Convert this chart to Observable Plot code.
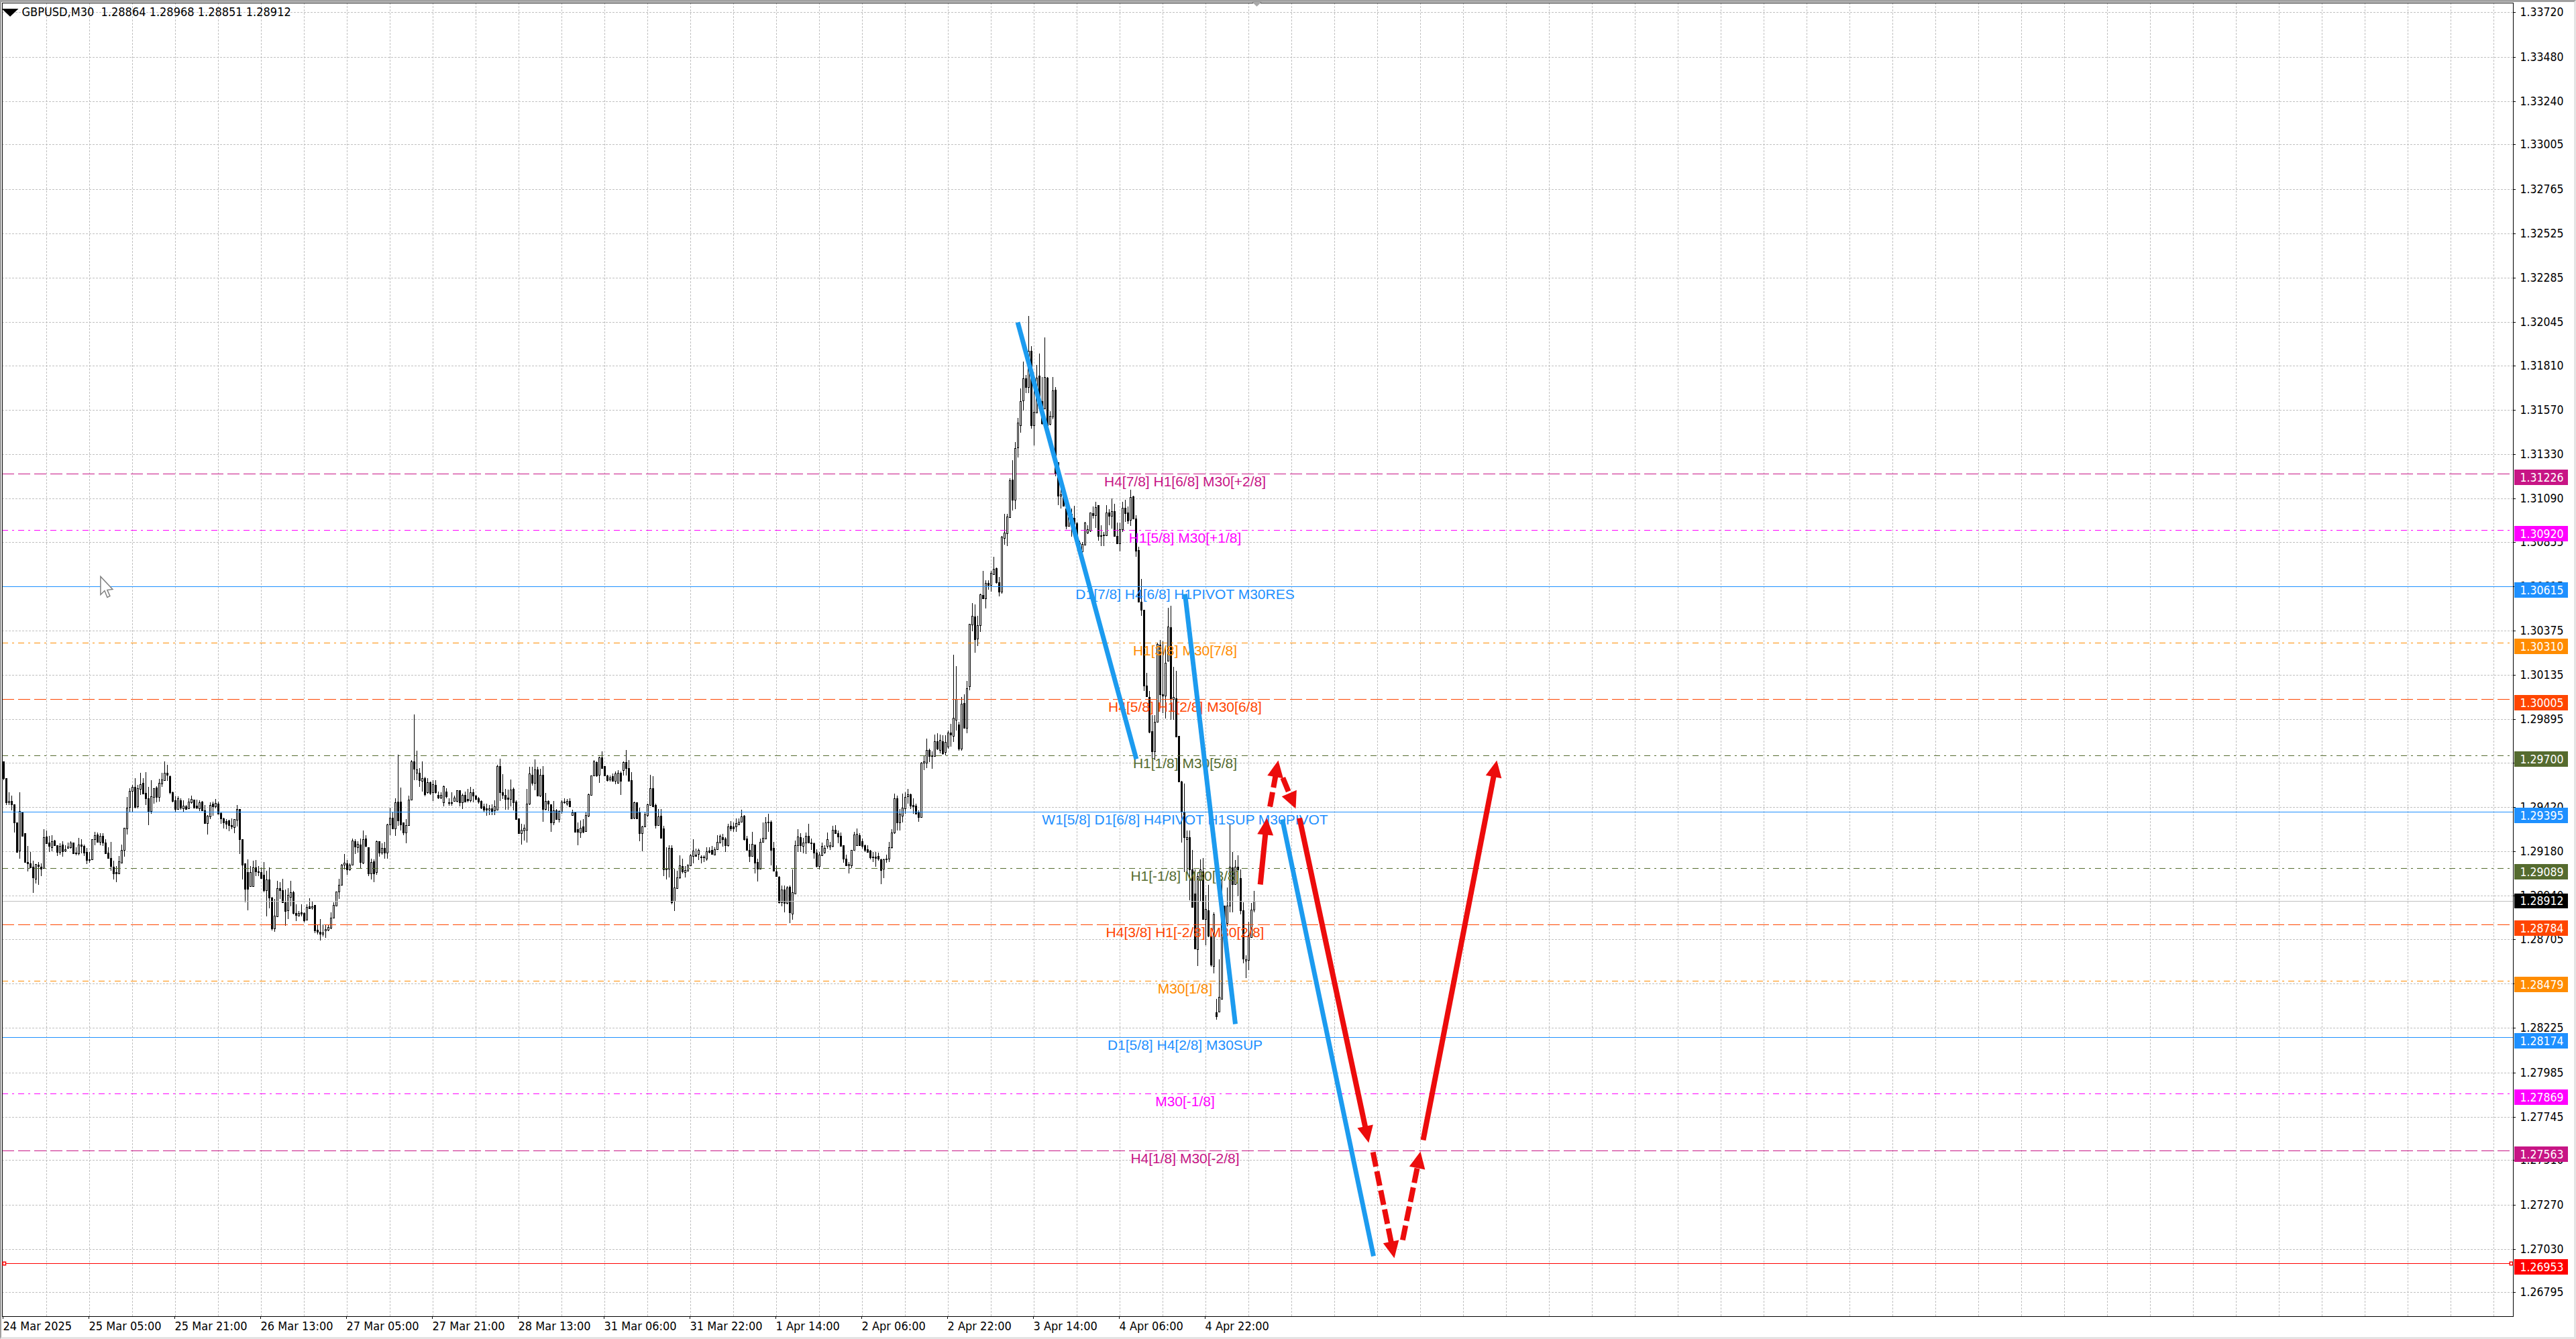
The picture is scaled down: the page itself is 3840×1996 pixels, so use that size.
<!DOCTYPE html>
<html><head><meta charset="utf-8">
<script src="https://cdn.jsdelivr.net/npm/d3@7"></script>
<script src="https://cdn.jsdelivr.net/npm/@observablehq/plot@0.6"></script>
<style>
html,body{margin:0;padding:0;background:#fff;width:3840px;height:1996px;overflow:hidden}
#edge{position:absolute;left:0;top:0;width:3840px;height:1996px;box-sizing:border-box;pointer-events:none;
border-top:3px solid #a0a0a0;border-left:2px solid #a0a0a0;border-right:3px solid #e4e4e4;border-bottom:3px solid #e4e4e4}
svg{display:block}
</style></head><body><div id="chart"></div><div id="edge"></div>
<script>
const symbolName = "GBPUSD,M30";
const lastQuote = [1.28864, 1.28968, 1.28851, 1.28912];
// candles, [open, high, low, close] in 1/100000
const bars24to25Mar = [[129668,129668,129566,129578],[129578,129578,129430,129445],[129445,129501,129430,129453],[129453,129483,129402,129435],[129435,129435,129281,129336],[129336,129336,129176,129178],[129184,129501,129140,129399],[129394,129394,129263,129266],[129278,129278,129118,129124],[129123,129211,129073,129115],[129115,129178,129091,129094],[129096,129130,128955,129039],[129033,129112,129005,129112],[129108,129124,129001,129100],[129096,129115,129048,129088],[129090,129299,129088,129257],[129261,129293,129221,129225],[129227,129263,129178,129209],[129203,129269,129182,129235],[129239,129241,129209,129212],[129215,129215,129157,129178],[129178,129223,129164,129209],[129217,129236,129152,129181],[129183,129215,129176,129193],[129200,129227,129200,129205],[129203,129236,129197,129227],[129229,129229,129166,129169],[129169,129203,129158,129172],[129171,129253,129158,129217],[129217,129247,129170,129209],[129209,129217,129154,129172],[129178,129199,129113,129132],[129138,129178,129120,129134],[129138,129247,129134,129247],[129247,129285,129212,129267],[129273,129281,129227,129233],[129233,129278,129215,129263],[129263,129278,129209,129227],[129229,129245,129166,129169],[129172,129203,129142,129145],[129145,129233,129076,129100],[129096,129130,129027,129060],[129067,129100,129015,129062],[129063,129154,129061,129126],[129120,129217,129115,129188],[129188,129308,129151,129308],[129303,129475,129273,129418],[129420,129523,129390,129508],[129508,129541,129396,129529],[129529,129578,129414,129420]];
const bars25to26Mar = [[129423,129541,129414,129523],[129520,129606,129487,129545],[129551,129578,129491,129493],[129497,129608,129432,129466],[129469,129529,129324,129399],[129399,129566,129384,129478],[129476,129523,129439,129522],[129527,129532,129445,129475],[129475,129572,129451,129551],[129547,129604,129529,129569],[129566,129668,129563,129606],[129606,129650,129563,129596],[129587,129590,129491,129499],[129499,129505,129445,129454],[129457,129479,129390,129408],[129408,129479,129406,129469],[129457,129466,129406,129418],[129414,129457,129396,129426],[129423,129430,129408,129411],[129414,129469,129408,129451],[129445,129483,129439,129463],[129460,129460,129417,129418],[129426,129459,129408,129417],[129414,129457,129399,129445],[129448,129454,129399,129401],[129401,129432,129330,129332],[129332,129378,129272,129372],[129370,129447,129354,129430],[129439,129448,129372,129423],[129423,129463,129414,129443],[129439,129451,129382,129384],[129387,129396,129330,129360],[129360,129362,129305,129336],[129344,129354,129302,129330],[129348,129350,129290,129321],[129324,129360,129299,129314],[129312,129354,129278,129354],[129353,129432,129314,129411],[129408,129408,129166,129245],[129245,129245,129027,129108],[129115,129115,128906,128976],[129067,129136,128861,128976],[128991,129100,128987,129067],[128991,129130,128987,129094],[129094,129134,129048,129072],[129072,129100,129048,129067],[129067,129094,129033,129036],[129055,129124,128958,128969],[128969,129076,128828,129030],[129030,129094,128873,128929]];
const bars26to27Mar = [[128930,128934,128752,128763],[128763,128922,128745,128833],[128830,129021,128828,128981],[128981,129015,128924,128969],[128969,129033,128900,128906],[128906,128973,128779,128858],[128861,128982,128815,128946],[128936,129021,128882,128961],[128961,128967,128840,128846],[128848,128894,128803,128835],[128834,128858,128828,128846],[128849,128894,128828,128843],[128848,128852,128797,128806],[128809,128894,128806,128878],[128882,128927,128870,128873],[128876,128912,128866,128882],[128892,128892,128740,128752],[128755,128785,128731,128746],[128745,128815,128697,128733],[128733,128785,128721,128743],[128751,128785,128713,128760],[128757,128785,128749,128771],[128767,128852,128761,128821],[128821,128906,128818,128890],[128888,128963,128882,128963],[128963,129033,128924,129000],[129000,129112,128995,129109],[129108,129166,129082,129118],[129115,129132,129055,129084],[129082,129115,129076,129108],[129108,129251,129106,129239],[129236,129247,129166,129205],[129203,129236,129172,129221],[129217,129251,129088,129123],[129120,129293,129112,129247],[129251,129269,129203,129209],[129203,129203,129045,129060],[129060,129142,129027,129124],[129126,129136,129013,129060],[129067,129239,129055,129236],[129236,129236,129151,129172],[129172,129223,129164,129199],[129199,129233,129142,129172],[129172,129330,129142,129326],[129326,129418,129269,129362],[129362,129396,129299,129305],[129305,129466,129266,129447],[129448,129705,129318,129348],[129448,129526,129293,129326],[129336,129336,129267,129281]];
const bars27to28Mar = [[129281,129354,129224,129324],[129321,129483,129318,129459],[129459,129674,129457,129668],[129668,129923,129566,129626],[129604,129727,129566,129624],[129606,129632,129529,129566],[129563,129668,129505,129575],[129578,129584,129478,129491],[129499,129578,129493,129556],[129556,129560,129487,129495],[129499,129566,129454,129545],[129539,129566,129493,129499],[129485,129505,129463,129472],[129471,129499,129463,129487],[129445,129535,129423,129533],[129505,129523,129466,129479],[129447,129469,129426,129442],[129447,129499,129426,129442],[129454,129481,129451,129471],[129454,129511,129445,129511],[129511,129511,129423,129445],[129445,129493,129408,129485],[129485,129505,129445,129451],[129463,129520,129445,129457],[129457,129529,129445,129499],[129501,129517,129445,129481],[129483,129487,129457,129463],[129469,129475,129439,129451],[129454,129457,129408,129417],[129424,129439,129396,129406],[129414,129439,129372,129405],[129405,129433,129376,129414],[129414,129435,129378,129400],[129402,129457,129378,129424],[129405,129648,129402,129641],[129641,129683,129454,129501],[129501,129600,129463,129485],[129485,129517,129406,129463],[129472,129514,129406,129465],[129465,129568,129423,129515],[129517,129527,129402,129445],[129448,129457,129354,129357],[129360,129360,129275,129278],[129278,129330,129218,129297],[129293,129326,129239,129308],[129296,129520,129227,129439],[129439,129638,129433,129602],[129595,129638,129535,129551],[129553,129678,129511,129624],[129624,129638,129479,129481]];
const bars28to31Mar = [[129481,129626,129475,129595],[129595,129641,129339,129408],[129408,129497,129402,129453],[129453,129457,129399,129439],[129436,129436,129287,129336],[129336,129453,129321,129402],[129402,129408,129354,129357],[129357,129402,129336,129399],[129396,129457,129384,129451],[129445,129469,129439,129451],[129439,129463,129426,129454],[129454,129469,129420,129423],[129376,129406,129372,129393],[129394,129396,129281,129287],[129302,129336,129212,129285],[129281,129348,129253,129309],[129315,129354,129278,129287],[129290,129396,129287,129378],[129372,129493,129366,129489],[129487,129592,129483,129592],[129590,129674,129587,129666],[129662,129668,129584,129592],[129593,129693,129551,129690],[129690,129720,129626,129632],[129641,129641,129587,129590],[129590,129596,129560,129566],[129568,129590,129557,129580],[129587,129602,129560,129563],[129563,129614,129544,129602],[129553,129620,129551,129604],[129604,129614,129485,129563],[129620,129668,129590,129662],[129665,129729,129592,129630],[129632,129674,129560,129563],[129566,129608,129357,129360],[129362,129451,129354,129447],[129445,129447,129357,129360],[129394,129418,129236,129278],[129278,129318,129181,129314],[129314,129396,129312,129382],[129378,129439,129366,129436],[129432,129595,129430,129523],[129523,129587,129423,129424],[129432,129439,129305,129324],[129324,129408,129321,129368],[129372,129408,129255,129255],[129305,129318,129045,129084],[129084,129203,129027,129088],[129088,129212,129039,129200],[129200,129212,128894,128906]];
const bars31MarTo1Apr = [[128912,129088,128858,128985],[128982,129076,128979,129039],[129039,129160,129033,129106],[129100,129142,129063,129072],[129069,129100,129039,129079],[129076,129112,129073,129106],[129106,129166,129103,129160],[129154,129245,129115,129184],[129164,129197,129152,129154],[129166,129197,129134,129190],[129152,129160,129114,129147],[129152,129160,129124,129147],[129142,129203,129130,129181],[129184,129203,129169,129178],[129188,129209,129164,129166],[129164,129203,129160,129193],[129193,129269,129190,129233],[129227,129272,129224,129263],[129257,129275,129206,129245],[129251,129257,129178,129212],[129212,129330,129206,129314],[129318,129345,129290,129305],[129314,129336,129287,129304],[129314,129360,129287,129333],[129327,129360,129326,129339],[129339,129406,129336,129370],[129374,129378,129239,129245],[129251,129263,129188,129190],[129188,129221,129124,129157],[129154,129285,129151,129221],[129217,129217,129060,129118],[129124,129142,129019,129088],[129088,129251,129085,129233],[129230,129336,129227,129253],[129251,129366,129249,129338],[129342,129384,129287,129336],[129342,129348,129106,129190],[129200,129233,129072,129076],[129072,129106,129043,129045],[129043,129045,128898,128906],[128904,128995,128882,128975],[128975,128995,128852,128900],[128900,128991,128894,128985],[128987,128995,128791,128849],[128842,129082,128809,128961],[128952,129239,128949,129215],[129212,129299,129176,129261],[129257,129278,129178,129212],[129209,129253,129169,129229],[129229,129281,129166,129266]];
const bars1to2Apr = [[129266,129330,129224,129227],[129229,129251,129190,129224],[129223,129227,129142,129172],[129175,129193,129094,129100],[129100,129178,129082,129164],[129160,129227,129154,129211],[129178,129215,129166,129200],[129209,129281,129197,129247],[129205,129233,129188,129212],[129209,129318,129203,129297],[129297,129324,129275,129278],[129280,129293,129224,129261],[129263,129281,129206,129209],[129212,129215,129118,129140],[129142,129164,129100,129103],[129103,129124,129060,129112],[129106,129190,129091,129188],[129188,129287,129184,129273],[129215,129305,129209,129275],[129269,129278,129209,129212],[129236,129251,129197,129209],[129215,129217,129178,129190],[129193,129215,129176,129178],[129184,129190,129136,129148],[129152,129178,129124,129147],[129151,129178,129096,129145],[129157,129172,129130,129142],[129138,129142,129002,129079],[129085,129142,129036,129136],[129142,129164,129118,129136],[129140,129233,129124,129203],[129203,129299,129197,129284],[129281,129493,129275,129469],[129469,129483,129293,129336],[129336,129408,129293,129384],[129372,129493,129336,129418],[129414,129499,129384,129475],[129477,129517,129439,129491],[129491,129493,129408,129426],[129430,129469,129384,129425],[129429,129439,129382,129384],[129390,129402,129339,129366],[129366,129662,129362,129660],[129660,129701,129620,129668],[129660,129789,129632,129729],[129729,129735,129662,129696],[129701,129723,129626,129696],[129696,129814,129693,129777]];
const bars2to3Apr = [[129777,129820,129729,129735],[129729,129814,129711,129783],[129777,129808,129705,129711],[129717,129808,129699,129771],[129748,129833,129736,129824],[129824,129869,129748,129812],[129806,130244,129772,129905],[129893,130184,129833,130005],[129867,129881,129724,129736],[129736,130014,129724,129980],[129984,130029,129845,129849],[129849,130103,129821,130063],[130075,130410,130051,130410],[130408,130523,130371,130456],[130450,130516,130254,130329],[130331,130456,130293,130404],[130404,130573,130368,130571],[130569,130698,130544,130549],[130549,130646,130496,130634],[130631,130646,130595,130622],[130622,130698,130585,130686],[130680,130773,130677,130710],[130712,130718,130629,130635],[130637,130665,130561,130585],[130585,130885,130573,130883],[130876,131007,130840,130904],[130902,131007,130832,130991],[130988,131198,130985,131188],[131190,131297,131025,131083],[131083,131396,131031,131363],[131366,131524,131311,131499],[131487,131687,131446,131618],[131620,131832,131566,131739],[131739,131759,131660,131693],[131693,132076,131660,131887],[131890,131914,131466,131484],[131484,131714,131376,131557],[131555,131814,131551,131745],[131753,131875,131575,131581],[131618,131747,131490,131497],[131575,131960,131573,131748],[131745,131747,131478,131484],[131493,131563,131484,131535],[131533,131748,131517,131676],[131677,131694,131210,131224],[131287,131287,131052,131103],[131106,131212,131037,131113],[131103,131152,131045,131049],[131037,131085,130922,130940],[130940,131049,130936,130988],[131006,131037,130883,130946],[130985,131049,130931,130952]];
const bars3to4Apr = [[130954,130964,130855,130859],[130852,130861,130831,130837],[130803,130855,130795,130843],[130840,130964,130835,130961],[130904,130946,130898,130922],[130916,131015,130910,131015],[131009,131045,130982,130999],[131000,131073,130931,131043],[131052,131052,130861,130886],[130892,130946,130831,130886],[130895,130910,130831,130890],[130892,131055,130888,131013],[131013,131031,130946,130997],[130994,131091,130928,131022],[131022,131061,130883,130886],[130888,130958,130843,130847],[130847,130958,130803,130922],[130924,131073,130910,131040],[131040,131081,130964,131009],[131013,131045,130952,130970],[130973,131136,130940,131097],[131101,131103,130976,130980],[130980,131000,130774,130807],[130809,130827,130529,130532],[130532,130653,130456,130489],[130489,130489,130048,130077],[130078,130147,130014,130018],[130017,130047,129821,129827],[129829,129917,129681,129720],[129722,129917,129674,129882],[129881,130311,129881,130302],[130299,130326,129954,130032],[130029,130317,129930,130024],[130024,130287,129899,130202],[130212,130498,130210,130398],[130395,130508,129893,130008],[130005,130178,129893,130014],[130008,130157,129797,129803]];
const bars4Apr = [[129806,129806,129556,129560],[129558,129563,129229,129396],[129393,129549,129069,129257],[129247,129292,129062,129257],[129257,129292,128916,129083],[129083,129190,128875,128881],[128954,129083,128652,128656],[128652,129069,128562,129048],[129027,129139,128909,129083],[129073,129143,128812,128815],[128815,128944,128673,128868],[128861,128999,128717,128722],[128722,128729,128555,128569],[128562,128851,128520,128840],[128309,128381,128270,128287],[128314,128597,128311,128392],[128381,129027,128378,128888],[128888,128888,128787,128791],[128791,128986,128773,128888],[128888,129326,128851,129097],[129094,129176,128851,129004],[129004,129132,129000,129097],[129097,129160,128937,129083],[129037,129083,128840,128861],[128861,128906,128576,128601],[128590,128620,128495,128597],[128592,128801,128537,128729],[128715,128902,128712,128865],[128864,128968,128851,128912]];

const yTicks = [1.33720,1.33480,1.33240,1.33005,1.32765,1.32525,1.32285,1.32045,1.31810,1.31570,1.31330,1.31090,1.30855,1.30615,1.30375,1.30135,1.29895,1.29660,1.29420,1.29180,1.28940,1.28705,1.28465,1.28225,1.27985,1.27745,1.27510,1.27270,1.27030,1.26795];
const xTickBars = [0,32,64,96,128,160,192,224,256,288,320,352,384,416,448];
const xTickLabels = ["24 Mar 2025","25 Mar 05:00","25 Mar 21:00","26 Mar 13:00","27 Mar 05:00","27 Mar 21:00","28 Mar 13:00","31 Mar 06:00","31 Mar 22:00","1 Apr 14:00","2 Apr 06:00","2 Apr 22:00","3 Apr 14:00","4 Apr 06:00","4 Apr 22:00"];

const levelPrices = [1.31226,1.30920,1.30615,1.30310,1.30005,1.29700,1.29395,1.29089,1.28784,1.28479,1.28174,1.27869,1.27563,1.26953];
const levelLabels = ["H4[7/8] H1[6/8] M30[+2/8]","H1[5/8] M30[+1/8]","D1[7/8] H4[6/8] H1PIVOT M30RES","H1[3/8] M30[7/8]","H4[5/8] H1[2/8] M30[6/8]","H1[1/8] M30[5/8]","W1[5/8] D1[6/8] H4PIVOT H1SUP M30PIVOT","H1[-1/8] M30[3/8]","H4[3/8] H1[-2/8] M30[2/8]","M30[1/8]","D1[5/8] H4[2/8] M30SUP","M30[-1/8]","H4[1/8] M30[-2/8]",""];
const levelColors = ["#c71585","#ff00ff","#1e90ff","#ff8c00","#ff4500","#556b2f","#1e90ff","#556b2f","#ff4500","#ff8c00","#1e90ff","#ff00ff","#c71585","#ff0000"];
const levelDash = ["18,6","9,6,3,6","none","9,6,3,6","18,6","9,6,3,6","none","9,6,3,6","18,6","9,6,3,6","none","9,6,3,6","18,6","none"];

const trendFromBar = [377.9,440.25,476.5];
const trendFromPrice = [1.32043,1.30574,1.29354];
const trendToBar = [422.1,459,510.5];
const trendToPrice = [1.29681,1.28249,1.26992];

const arrowFromBar = [468.3,471.9,476.7,482.9,510.3,521.35,529];
const arrowFromPrice = [1.29004,1.29423,1.29579,1.29361,1.27556,1.27079,1.27620];
const arrowTipBar = [470.8,475,481.5,508.7,518.25,528,556.45];
const arrowTipPrice = [1.29361,1.29674,1.29414,1.27605,1.26983,1.27558,1.29676];
const arrowDashed = [false,true,true,false,true,true,false];

const BLUE="#1c9bef", RED="#ec0c0c", GRID="#c0c0c0";
const TICKFONT="'DejaVu Sans Condensed','DejaVu Sans',sans-serif";
const rows=[...bars24to25Mar,...bars25to26Mar,...bars26to27Mar,...bars27to28Mar,...bars28to31Mar,...bars31MarTo1Apr,...bars1to2Apr,...bars2to3Apr,...bars3to4Apr,...bars4Apr];
const candles=rows.map((r,i)=>({i,open:r[0]/1e5,high:r[1]/1e5,low:r[2]/1e5,close:r[3]/1e5}));
const pxPerBar=4, pxPerPrice=27555, headLen=25, headHalf=12;
const head={draw(c,l,r){c.moveTo(0,-l);c.lineTo(r,0);c.lineTo(-r,0);c.closePath();}};
const arrows=arrowFromBar.map((fb,j)=>{
  const tb=arrowTipBar[j],fp=arrowFromPrice[j],tp=arrowTipPrice[j];
  const dx=(tb-fb)*pxPerBar,dy=(tp-fp)*pxPerPrice,len=Math.hypot(dx,dy),f=1-(headLen-2)/len;
  return {fb,fp,tb,tp,bb:fb+(tb-fb)*f,bp:fp+(tp-fp)*f,rot:Math.atan2(dx,dy)*180/Math.PI,dash:arrowDashed[j]};
});
const downTri={draw(c,s){const r=Math.sqrt(s);c.moveTo(-r,-r*.45);c.lineTo(r,-r*.45);c.lineTo(0,r*.5);c.closePath();}};
const cursor={draw(c){c.moveTo(0,0);c.lineTo(0,27);c.lineTo(6,21);c.lineTo(10,31);c.lineTo(14,29);c.lineTo(10,20);c.lineTo(18,19);c.closePath();}};
const levelTags=levelPrices.map((p,j)=>({p,c:levelColors[j]}));

const marks=[
  Plot.ruleY(yTicks,{stroke:GRID,strokeDasharray:"3,2"}),
  Plot.ruleX(d3.range(16,930,16),{stroke:GRID,strokeDasharray:"3,2"}),
  Plot.ruleX(candles,{x:"i",y1:"low",y2:"high",stroke:"black"}),
  Plot.rect(candles.filter(d=>d.close>=d.open),{x1:d=>d.i-.125,x2:d=>d.i+.375,y1:"open",y2:"close",fill:"white",stroke:"black",dy:.5,insetBottom:-.02}),
  Plot.rect(candles.filter(d=>d.close<d.open),{x1:d=>d.i-.125,x2:d=>d.i+.375,y1:"open",y2:"close",fill:"black",stroke:"black",dy:.5,insetBottom:-.02}),
  Plot.ruleY([lastQuote[3]],{stroke:GRID}),
  ...levelPrices.map((p,j)=>Plot.ruleY([p],{stroke:levelColors[j],strokeDasharray:levelDash[j]})),
  Plot.text(levelPrices.map((p,j)=>({p,t:levelLabels[j],c:levelColors[j]})).filter(d=>d.t),{x:()=>440.25,y:"p",text:"t",fill:d=>d.c,dy:11.5,fontFamily:"'Liberation Sans',sans-serif",fontSize:21,textAnchor:"middle"}),
  ...trendFromBar.map((b,j)=>Plot.line([[b,trendFromPrice[j]],[trendToBar[j],trendToPrice[j]]],{x:"0",y:"1",stroke:BLUE,strokeWidth:7,strokeLinecap:"butt"})),
  ...arrows.map(a=>Plot.line([[a.fb,a.fp],[a.bb,a.bp]],{x:"0",y:"1",stroke:RED,strokeWidth:8,strokeLinecap:"butt",strokeDasharray:a.dash?"22,7":"none"})),
  Plot.vector(arrows,{x:"tb",y:"tp",rotate:"rot",length:headLen,r:headHalf,anchor:"end",shape:head,fill:RED,stroke:"none"}),
  Plot.axisY({anchor:"right",ticks:yTicks,tickFormat:d=>d.toFixed(5),tickSize:3,tickPadding:7,label:null,fontSize:17.5,fontFamily:TICKFONT,fill:"black",textAnchor:"start"}),
  Plot.axisX({anchor:"bottom",ticks:xTickBars,tickFormat:d=>xTickLabels[xTickBars.indexOf(d)],tickSize:4,tickPadding:4,label:null,fontSize:18,fontFamily:TICKFONT,fill:"black",textAnchor:"start",dx:-1}),
  Plot.frame({stroke:"black"}),
  Plot.rect(levelTags,{x1:()=>935.75,x2:()=>955.75,y1:"p",y2:"p",fill:d=>d.c,insetTop:-6,insetBottom:-17}),
  Plot.text(levelTags,{x:()=>937.75,y:"p",text:d=>d.p.toFixed(5),dy:5.5,fill:"white",fontSize:17.5,fontFamily:TICKFONT,textAnchor:"start"}),
  Plot.rect([lastQuote[3]],{x1:()=>935.75,x2:()=>955.75,y1:d=>d,y2:d=>d,fill:"black",insetTop:-11,insetBottom:-11}),
  Plot.text([lastQuote[3]],{x:()=>937.75,y:d=>d,text:d=>d.toFixed(5),fill:"white",fontSize:17.5,fontFamily:TICKFONT,textAnchor:"start"}),
  Plot.dot([0,1],{x:d=>d?934.5:.2,y:()=>1.26953,symbol:"square",r:2.5,stroke:"#ff0000",fill:"white"}),
  Plot.text([`${symbolName}\u00a0\u00a0${lastQuote.map(v=>v.toFixed(5)).join(" ")}`],{x:()=>6.75,y:()=>1.33720,text:d=>d,fill:"black",fontSize:18,fontFamily:TICKFONT,textAnchor:"start"}),
  Plot.dot([0],{x:()=>2.4,y:()=>1.33720,symbol:downTri,r:7,fill:"black",stroke:"none"}),
  Plot.dot([0],{x:()=>467,y:()=>1.33775,symbol:downTri,r:7,fill:"#a8a8a8",stroke:"none"}),
  Plot.dot([0],{x:()=>36.1,y:()=>1.30668,symbol:cursor,r:3,fill:"white",stroke:"#808080"})
];
const chart=Plot.plot({width:3840,height:1996,marginLeft:3,marginRight:94,marginTop:4,marginBottom:34,
  x:{domain:[-.5,935.25],axis:null},
  y:{domain:[1.266658,1.337722],round:true,axis:null},
  color:{type:"identity"},
  style:{background:"white",overflow:"visible",fontFamily:TICKFONT,fontSize:"17px"},
  marks});
document.getElementById("chart").append(chart);
</script></body></html>
